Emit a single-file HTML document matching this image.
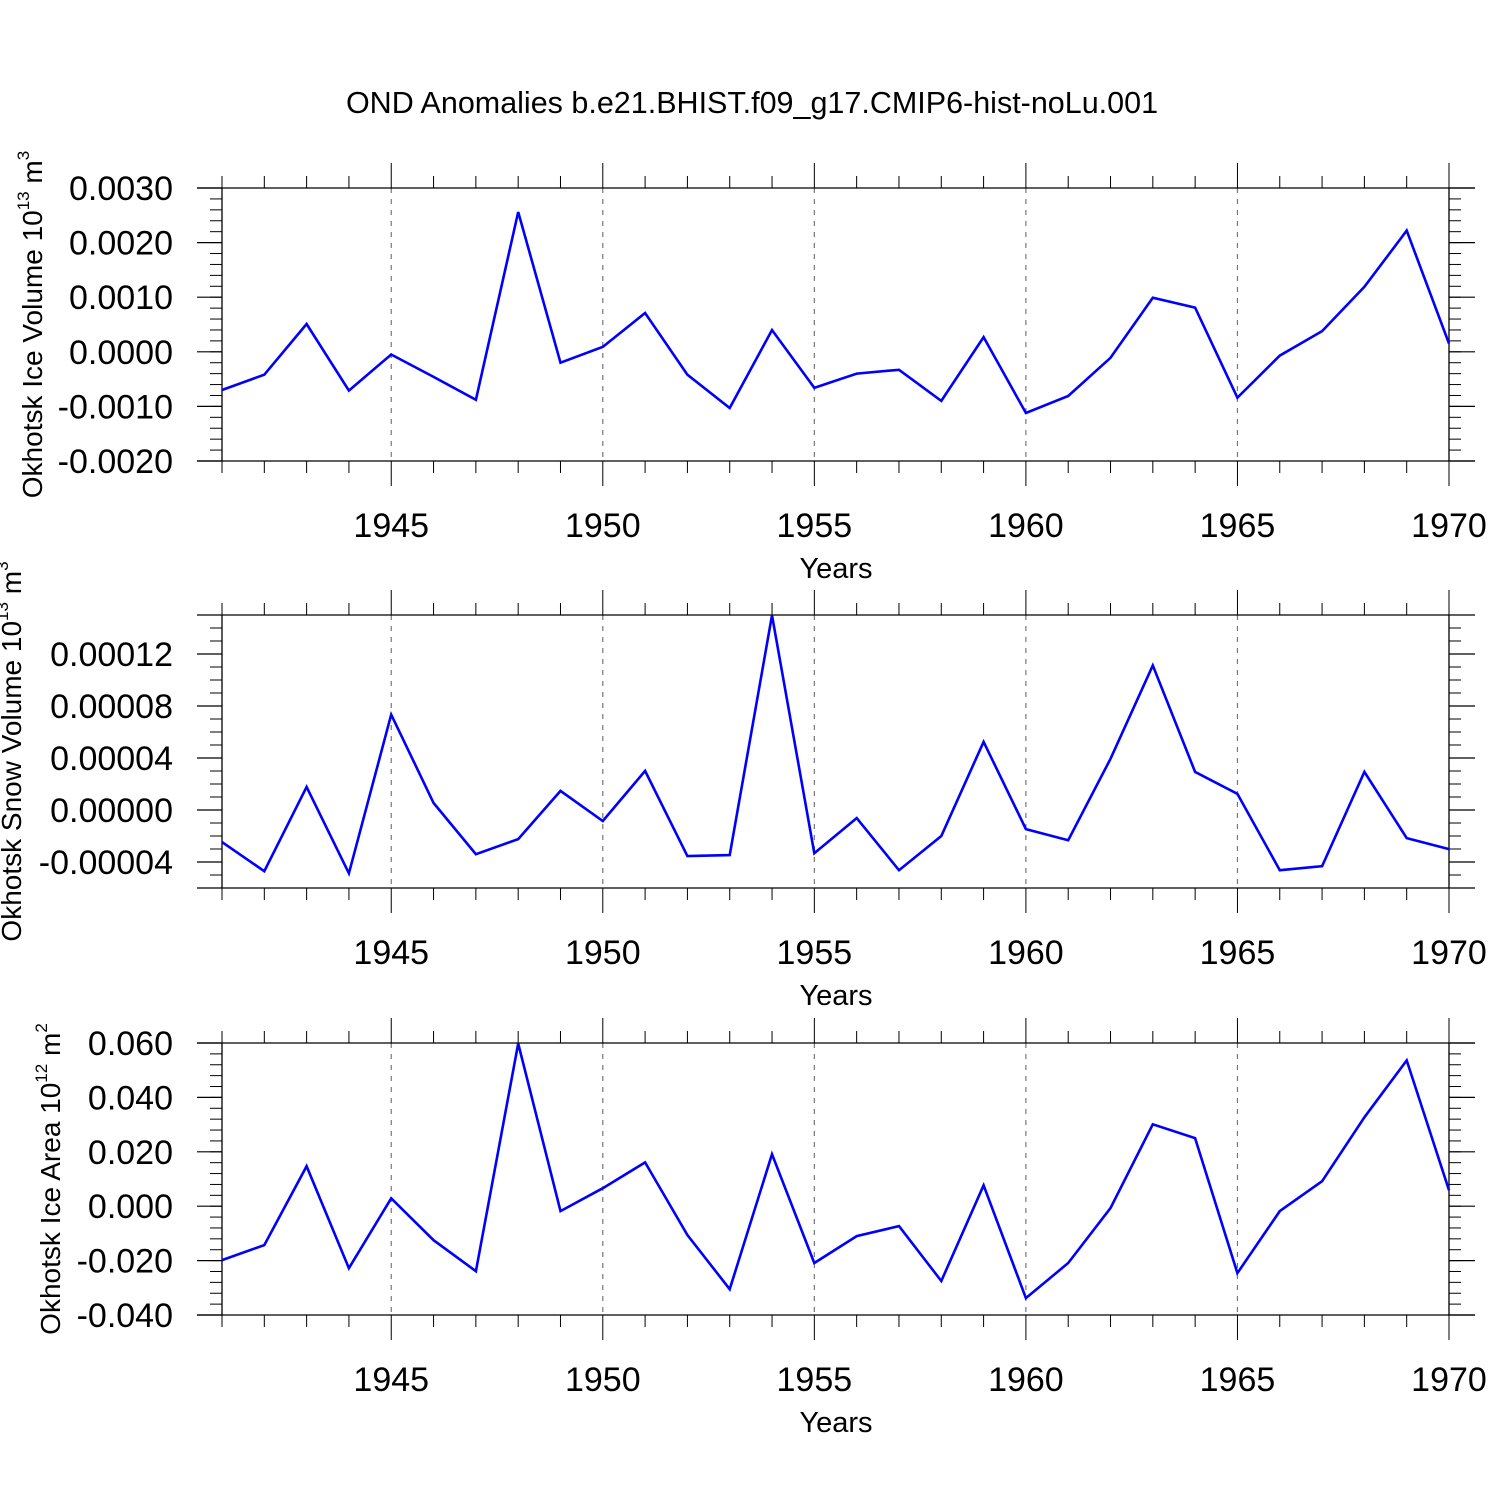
<!DOCTYPE html>
<html><head><meta charset="utf-8"><style>
html,body{margin:0;padding:0;background:#fff;}
svg{display:block;font-family:"Liberation Sans",Arial,sans-serif;}
</style></head><body>
<svg id="chart" width="1500" height="1500" viewBox="0 0 1500 1500" xmlns="http://www.w3.org/2000/svg">
<rect x="0" y="0" width="1500" height="1500" fill="#fff"/>
<text x="752" y="113" font-size="30.5" text-anchor="middle">OND Anomalies b.e21.BHIST.f09_g17.CMIP6-hist-noLu.001</text>
</svg>
<script>
const years = [1941,1942,1943,1944,1945,1946,1947,1948,1949,1950,1951,1952,1953,1954,1955,1956,1957,1958,1959,1960,1961,1962,1963,1964,1965,1966,1967,1968,1969,1970];
const iceVolume = [-0.0007,-0.00042,0.00051,-0.00071,-0.00005,-0.00046,-0.00088,0.00256,-0.0002,0.00009,0.00071,-0.00042,-0.00103,0.0004,-0.00066,-0.0004,-0.00033,-0.0009,0.00027,-0.00112,-0.00081,-0.00011,0.00099,0.00081,-0.00084,-0.00007,0.00038,0.00119,0.00222,0.00015];
const snowVolume = [-0.0000247,-0.0000471,0.0000178,-0.0000487,0.0000734,0.0000054,-0.000034,-0.0000224,0.0000147,-0.0000085,0.0000301,-0.0000355,-0.0000347,0.0001498,-0.0000332,-0.0000062,-0.0000463,-0.00002,0.0000525,-0.0000147,-0.0000232,0.0000394,0.0001112,0.0000293,0.0000124,-0.0000463,-0.0000432,0.0000293,-0.0000216,-0.0000301];
const iceArea = [-0.0198,-0.0143,0.0147,-0.0228,0.0029,-0.0125,-0.0239,0.0598,-0.0018,0.0066,0.0161,-0.0106,-0.0305,0.0191,-0.0209,-0.011,-0.0073,-0.0275,0.0077,-0.0338,-0.0209,-0.0007,0.0301,0.025,-0.0246,-0.0018,0.0092,0.0327,0.0536,0.0059];
const xTickLabels = ["1945","1950","1955","1960","1965","1970"];
const xTickYears = [1945,1950,1955,1960,1965,1970];
const iceVolTicks = [-0.002,-0.001,0,0.001,0.002,0.003];
const iceVolLabels = ["-0.0020","-0.0010","0.0000","0.0010","0.0020","0.0030"];
const snowTicks = [-0.00004,0,0.00004,0.00008,0.00012];
const snowLabels = ["-0.00004","0.00000","0.00004","0.00008","0.00012"];
const areaTicks = [-0.04,-0.02,0,0.02,0.04,0.06];
const areaLabels = ["-0.040","-0.020","0.000","0.020","0.040","0.060"];

const NS="http://www.w3.org/2000/svg";
const svg=document.getElementById('chart');
const X0=222,X1=1449;
function xs(yr){return X0+(yr-1941)/(1970-1941)*(X1-X0);}
function mk(tag,attrs,parent){const e=document.createElementNS(NS,tag);for(const k in attrs)e.setAttribute(k,attrs[k]);(parent||svg).appendChild(e);return e;}

function panel(name,top,bottom,ymin,ymax,ticks,labels,minorStep,data,titleMain,titleSup,titleUnit,unitSup,titleX){
  const g=mk('g',{});
  
  
  const ys=v=>bottom-(v-ymin)/(ymax-ymin)*(bottom-top);
  xTickYears.forEach(yr=>{
    if(yr===1970)return;
    const l=mk('line',{x1:xs(yr),x2:xs(yr),y1:top,y2:bottom,stroke:'#777','stroke-width':1.2,'stroke-dasharray':'5,6'},g);
    
    
  });
  mk('line',{x1:197,x2:1475,y1:top,y2:top,stroke:'#000','stroke-width':1.3},g);
  mk('line',{x1:197,x2:1475,y1:bottom,y2:bottom,stroke:'#000','stroke-width':1.3},g);
  mk('line',{x1:X0,x2:X0,y1:top,y2:bottom,stroke:'#000','stroke-width':1.3},g);
  mk('line',{x1:X1,x2:X1,y1:top,y2:bottom,stroke:'#000','stroke-width':1.3},g);
  years.forEach(yr=>{
    const major=xTickYears.includes(yr);const L=major?25:12;const x=xs(yr);
    mk('line',{x1:x,x2:x,y1:top-L,y2:top,stroke:'#000','stroke-width':1},g);
    mk('line',{x1:x,x2:x,y1:bottom,y2:bottom+L,stroke:'#000','stroke-width':1},g);
  });
  xTickYears.forEach((yr,i)=>{
    const t=mk('text',{x:xs(yr),y:bottom+76,'font-size':34,'text-anchor':'middle'},g);
    t.textContent=xTickLabels[i];
    
    
  });
  const xt=mk('text',{x:836,y:bottom+117,'font-size':29,'text-anchor':'middle'},g);
  xt.textContent='Years';
  
  
  for(let v=ymin;v<=ymax+minorStep*0.01;v+=minorStep){
    const y=ys(v);
    mk('line',{x1:210,x2:X0,y1:y,y2:y,stroke:'#000','stroke-width':1},g);
    mk('line',{x1:X1,x2:1461,y1:y,y2:y,stroke:'#000','stroke-width':1},g);
  }
  ticks.forEach((v,i)=>{
    const y=ys(v);
    mk('line',{x1:197,x2:X0,y1:y,y2:y,stroke:'#000','stroke-width':1.2},g);
    mk('line',{x1:X1,x2:1475,y1:y,y2:y,stroke:'#000','stroke-width':1.2},g);
    const t=mk('text',{x:173,y:y+12,'font-size':34,'text-anchor':'end'},g);
    t.textContent=labels[i];
    
    
  });
  const cy=(top+bottom)/2;
  const yt=mk('text',{x:0,y:0,'font-size':28,'text-anchor':'middle',transform:`translate(${titleX},${cy}) rotate(-90)`},g);
  
  
  const s1=document.createElementNS(NS,'tspan');s1.textContent=titleMain;yt.appendChild(s1);
  const s2=document.createElementNS(NS,'tspan');s2.setAttribute('font-size','17');s2.setAttribute('dy','-13');s2.textContent=titleSup;yt.appendChild(s2);
  const s3=document.createElementNS(NS,'tspan');s3.setAttribute('dy','13');s3.textContent=' '+titleUnit;yt.appendChild(s3);
  const s4=document.createElementNS(NS,'tspan');s4.setAttribute('font-size','17');s4.setAttribute('dy','-13');s4.textContent=unitSup;yt.appendChild(s4);
  const pts=years.map((yr,i)=>xs(yr).toFixed(1)+','+ys(data[i]).toFixed(1)).join(' ');
  const p=mk('polyline',{points:pts,fill:'none',stroke:'#0000ff','stroke-width':2.6,'stroke-linejoin':'miter'},g);
  
  
}
panel('ice-volume',188,461,-0.002,0.003,iceVolTicks,iceVolLabels,0.0002,iceVolume,'Okhotsk Ice Volume 10','13','m','3','42');
panel('snow-volume',615,888,-0.00006,0.00015,snowTicks,snowLabels,0.00001,snowVolume,'Okhotsk Snow Volume 10','13','m','3','21');
panel('ice-area',1043,1315,-0.04,0.06,areaTicks,areaLabels,0.004,iceArea,'Okhotsk Ice Area 10','12','m','2','60');
</script>
</body></html>
